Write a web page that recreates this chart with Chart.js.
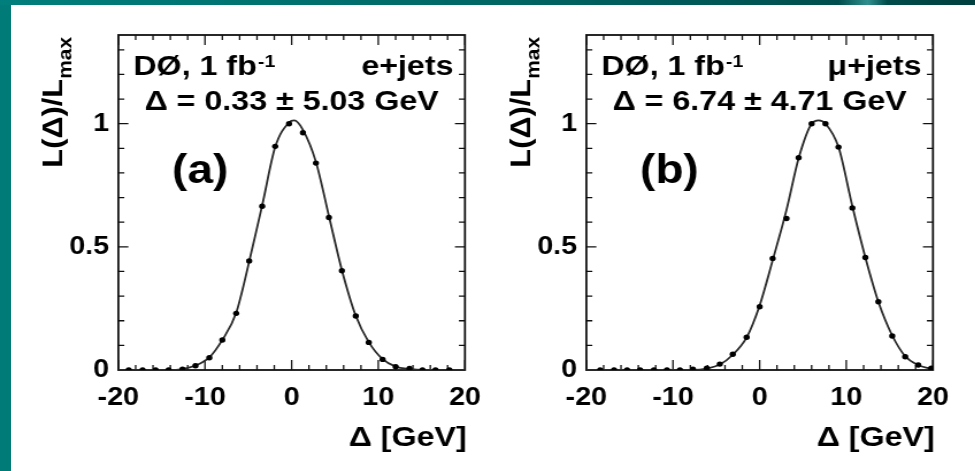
<!DOCTYPE html>
<html>
<head>
<meta charset="utf-8">
<script src="https://cdn.jsdelivr.net/npm/chart.js@4.4.1/dist/chart.umd.min.js"></script>
<style>
  body { margin: 0; width: 975px; height: 471px; background: #fff; position: relative; overflow: hidden; }
  #edgeLeft { position: absolute; left: 0; top: 0; width: 11px; height: 471px; background: #007b78; }
  #edgeTop { position: absolute; left: 0; top: 0; width: 975px; height: 5px;
    background: linear-gradient(90deg, #007f7c 0%, #006a68 45%, #004f4e 86%, #2f8f8c 89%, #004b4a 91%, #003f3f 100%); }
  .panel { position: absolute; top: 0; width: 440px; height: 471px; transform: scaleX(1.15); transform-origin: 0 0; }
  #panelA { left: 0; }
  #panelB { left: 468px; }
</style>
</head>
<body>
<div id="edgeLeft"></div>
<div id="edgeTop"></div>
<div class="panel" id="panelA"><canvas id="chartA" width="440" height="471"></canvas></div>
<div class="panel" id="panelB"><canvas id="chartB" width="440" height="471"></canvas></div>

<script>
// ================= DATA =================
const xTicks = [-20, -10, 0, 10, 20];
const yTicks = [0, 0.5, 1];

// (a) e+jets : likelihood points and fitted curve
const dotXA = [-18.8, -17.2, -15.7, -14.2, -12.6, -11.1, -9.5, -8.0, -6.4, -4.9, -3.4, -1.9, -0.3, 1.3, 2.8, 4.3, 5.8, 7.4, 8.9, 10.5, 12.0, 13.6, 15.1, 16.6, 18.2];
const dotYA = [0, 0, 0, 0, 0.003, 0.017, 0.050, 0.122, 0.230, 0.443, 0.665, 0.908, 1.0, 0.963, 0.840, 0.619, 0.403, 0.219, 0.112, 0.043, 0.013, 0.006, 0, 0, 0];
const fitXA = [-20, -14.2, -12.6, -11.1, -9.5, -8.0, -6.4, -4.9, -3.4, -1.9, -0.3, 0.3, 1.3, 2.8, 4.3, 5.8, 7.4, 8.9, 10.5, 12.0, 13.6, 15.1, 20];
const fitYA = [0, 0, 0.004, 0.018, 0.051, 0.122, 0.232, 0.440, 0.668, 0.905, 1.005, 1.013, 0.975, 0.845, 0.625, 0.405, 0.220, 0.113, 0.044, 0.014, 0.004, 0, 0];

// (b) mu+jets
const dotXB = [-18.4, -16.8, -15.3, -13.8, -12.2, -10.7, -9.2, -7.7, -6.1, -4.6, -3.1, -1.5, 0.0, 1.5, 3.1, 4.5, 6.0, 7.6, 9.1, 10.7, 12.2, 13.7, 15.3, 16.8, 18.3, 19.8];
const dotYB = [0, 0, 0, 0, 0, 0, 0, 0.003, 0.007, 0.024, 0.064, 0.133, 0.257, 0.453, 0.615, 0.862, 1.0, 1.0, 0.905, 0.658, 0.457, 0.277, 0.138, 0.054, 0.020, 0.007];
const fitXB = [-20, -7.7, -6.1, -4.6, -3.1, -1.5, 0.0, 1.5, 3.1, 4.5, 6.0, 6.8, 7.6, 9.1, 10.7, 12.2, 13.7, 15.3, 16.8, 18.3, 19.8, 20];
const fitYB = [0, 0, 0.006, 0.022, 0.062, 0.132, 0.262, 0.445, 0.650, 0.860, 1.0, 1.013, 1.0, 0.905, 0.665, 0.457, 0.277, 0.140, 0.056, 0.020, 0.004, 0.002];

const S = 1.15; // the whole picture is stretched sideways
const FONT = '"Liberation Sans", Arial, sans-serif';

function pairs(xs, ys) {
    return xs.map((x, i) => ({ x: x, y: ys[i] }));
}

// ================= FRAME, TICKS, TEXT =================
function framePlugin(info) {
    return {
        id: 'frame',
        beforeDatasetsDraw(chart) {
            let { ctx, chartArea: a, scales: { x, y } } = chart;
            ctx.save();
            ctx.strokeStyle = '#111';
            ctx.lineWidth = 1.3;
            ctx.beginPath();
            for (let v = -20; v <= 20; v += 2) {
                let px = x.getPixelForValue(v);
                let len = v % 10 === 0 ? 10 : 5;
                ctx.moveTo(px, a.bottom); ctx.lineTo(px, a.bottom - len);
                ctx.moveTo(px, a.top); ctx.lineTo(px, a.top + len);
            }
            for (let i = 1; i <= 13; i++) {
                let py = y.getPixelForValue(i / 10);
                let len = (i % 5 === 0 ? 10 : 6) / S;
                ctx.moveTo(a.left, py); ctx.lineTo(a.left + len, py);
                ctx.moveTo(a.right, py); ctx.lineTo(a.right - len, py);
            }
            ctx.stroke();
            ctx.lineWidth = 1.8;
            ctx.strokeRect(a.left, a.top, a.right - a.left, a.bottom - a.top);
            ctx.restore();
        },
        afterDraw(chart) {
            let { ctx, chartArea: a } = chart;
            ctx.save();
            ctx.fillStyle = '#000';
            ctx.textBaseline = 'alphabetic';

            // DØ, 1 fb^-1
            ctx.font = 'bold 28px ' + FONT;
            ctx.textAlign = 'left';
            let lx = a.left + 13;
            ctx.fillText('DØ, 1 fb', lx, 75);
            let w = ctx.measureText('DØ, 1 fb').width;
            ctx.font = 'bold 17px ' + FONT;
            ctx.fillText('-1', lx + w + 1, 67);

            // channel
            ctx.font = 'bold 28px ' + FONT;
            ctx.textAlign = 'right';
            ctx.fillText(info.channel, a.right - 10, 75);

            // measured shift
            ctx.textAlign = 'center';
            ctx.fillText(info.result, (a.left + a.right) / 2, 110);

            // panel letter
            ctx.font = 'bold 40px ' + FONT;
            ctx.textAlign = 'left';
            ctx.fillText(info.letter, a.left + 46.7, 183);

            // x title
            ctx.font = 'bold 28px ' + FONT;
            ctx.textAlign = 'right';
            ctx.fillText('Δ [GeV]', a.right + 1.5, 446);

            // y title, rotated, with subscript
            ctx.translate(53.7, 37);
            ctx.rotate(-Math.PI / 2);
            ctx.scale(1.1, 0.87);
            ctx.textAlign = 'left';
            ctx.font = 'bold 28px ' + FONT;
            let w1 = ctx.measureText('L(Δ)/L').width;
            ctx.font = 'bold 19px ' + FONT;
            let w2 = ctx.measureText('max').width;
            ctx.font = 'bold 28px ' + FONT;
            ctx.fillText('L(Δ)/L', -(w1 + w2), 0);
            ctx.font = 'bold 19px ' + FONT;
            ctx.fillText('max', -w2, 9);
            ctx.restore();
        }
    };
}

// ================= CHARTS =================
function makeChart(canvasId, dotX, dotY, fitX, fitY, info) {
    new Chart(document.getElementById(canvasId), {
        type: 'scatter',
        data: {
            datasets: [{
                data: pairs(dotX, dotY),
                showLine: false,
                pointRadius: 2.7,
                pointBackgroundColor: '#000',
                pointBorderWidth: 0
            }, {
                data: pairs(fitX, fitY),
                showLine: true,
                pointRadius: 0,
                borderColor: '#2a2a2a',
                borderWidth: 1.8,
                cubicInterpolationMode: 'monotone'
            }]
        },
        options: {
            responsive: false,
            animation: false,
            devicePixelRatio: 1,
            layout: { padding: { left: 0, right: 35.7, top: 35, bottom: 0 } },
            plugins: { legend: { display: false }, tooltip: { enabled: false } },
            scales: {
                x: {
                    type: 'linear', min: -20, max: 20,
                    afterBuildTicks: s => { s.ticks = xTicks.map(v => ({ value: v })); },
                    afterFit: s => { s.height = 101; },
                    grid: { display: false, drawTicks: false },
                    border: { display: false },
                    ticks: {
                        color: '#000', padding: 13, maxRotation: 0, autoSkip: false,
                        font: { family: FONT, size: 25, weight: 'bold' },
                        callback: v => String(v)
                    }
                },
                y: {
                    type: 'linear', min: 0, max: 1.36,
                    afterBuildTicks: s => { s.ticks = yTicks.map(v => ({ value: v })); },
                    afterFit: s => { s.width = 102.9; },
                    grid: { display: false, drawTicks: false },
                    border: { display: false },
                    ticks: {
                        color: '#000', padding: 8,
                        font: { family: FONT, size: 25, weight: 'bold' },
                        callback: v => String(v)
                    }
                }
            }
        },
        plugins: [framePlugin(info)]
    });
}

makeChart('chartA', dotXA, dotYA, fitXA, fitYA, { channel: 'e+jets', result: 'Δ = 0.33 ± 5.03 GeV', letter: '(a)' });
makeChart('chartB', dotXB, dotYB, fitXB, fitYB, { channel: 'μ+jets', result: 'Δ = 6.74 ± 4.71 GeV', letter: '(b)' });
</script>
</body>
</html>
